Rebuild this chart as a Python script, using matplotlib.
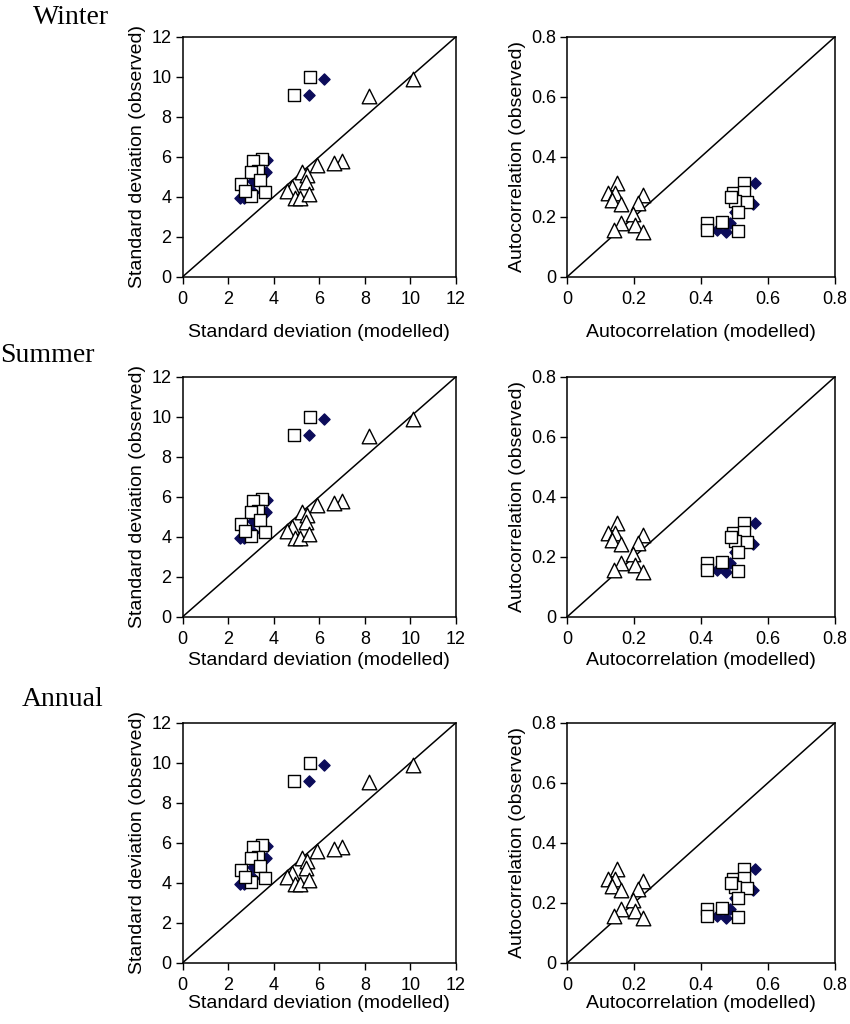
import numpy as np
import matplotlib.pyplot as plt

# standard deviation: modelled vs observed
sq_sd_mod = [5.6, 4.9, 3.5, 3.1, 3.3, 3.0, 3.4, 2.55, 3.6, 3.0, 2.75]
sq_sd_obs = [10.0, 9.1, 5.9, 5.8, 5.3, 5.25, 4.85, 4.65, 4.25, 4.05, 4.3]
dm_sd_mod = [6.2, 5.55, 3.7, 3.65, 3.1, 3.1, 2.5, 2.7]
dm_sd_obs = [9.9, 9.1, 5.85, 5.25, 4.8, 4.25, 3.95, 3.95]
tr_sd_mod = [10.1, 8.2, 7.0, 6.65, 5.9, 5.25, 5.45, 5.4, 4.8, 4.6, 4.95, 5.15, 5.55]
tr_sd_obs = [9.9, 9.05, 5.8, 5.7, 5.6, 5.25, 5.1, 4.75, 4.5, 4.3, 3.95, 3.95, 4.15]

# lag-1 autocorrelation: modelled vs observed
sq_ac_mod = [0.527, 0.496, 0.529, 0.501, 0.536, 0.511, 0.418, 0.461, 0.418, 0.511, 0.49]
sq_ac_obs = [0.313, 0.28, 0.282, 0.252, 0.249, 0.215, 0.18, 0.182, 0.155, 0.152, 0.265]
dm_ac_mod = [0.561, 0.554, 0.486, 0.446, 0.473, 0.50]
dm_ac_obs = [0.311, 0.244, 0.18, 0.155, 0.148, 0.215]
tr_ac_mod = [0.15, 0.123, 0.143, 0.133, 0.16, 0.225, 0.212, 0.197, 0.16, 0.14, 0.202, 0.225]
tr_ac_obs = [0.311, 0.28, 0.28, 0.255, 0.243, 0.274, 0.247, 0.208, 0.18, 0.155, 0.174, 0.149]

seasons = ['Winter', 'Summer', 'Annual']
sd_ticks = [0, 2, 4, 6, 8, 10, 12]
ac_ticks = [0, 0.2, 0.4, 0.6, 0.8]
ac_ticklabels = ['0', '0.2', '0.4', '0.6', '0.8']

W, H = 850, 1024
fig = plt.figure(figsize=(W / 100, H / 100), dpi=100)
plt.rcParams['font.family'] = 'Liberation Sans'

row_bottom = [276.7, 616.7, 962.7]   # pixel y of x axis
row_title = [18, 355, 700]
title_x = [33, 0, 22]
xlab_pad = [12, 3, 1]


def style(ax, lim, ticks, ticklabels):
    ax.set_xlim(0, lim)
    ax.set_ylim(0, lim)
    ax.set_xticks(ticks)
    ax.set_yticks(ticks)
    ax.set_xticklabels(ticklabels, fontsize=13)
    ax.set_yticklabels(ticklabels, fontsize=13)
    ax.tick_params(direction='out', length=5, width=1, pad=3)
    ax.tick_params(axis='x', pad=5)
    for s in ax.spines.values():
        s.set_linewidth(1.1)
    ax.plot([0, lim], [0, lim], color='black', lw=1.1, zorder=1)


def points(ax, sq, dm, tr):
    ax.scatter(*dm, marker='D', s=32, color='#0c0c5a', zorder=2)
    ax.scatter(*sq, marker='s', s=80, facecolor='white',
               edgecolor='black', linewidths=1, zorder=3)
    ax.scatter(*tr, marker='^', s=110, facecolor='white',
               edgecolor='black', linewidths=1, zorder=3)


for r, season in enumerate(seasons):
    yb = 1 - row_bottom[r] / H
    ax1 = fig.add_axes([182.7 / W, yb, 273.3 / W, 240 / H])
    ax2 = fig.add_axes([567.3 / W, yb, 267.7 / W, 240 / H])

    style(ax1, 12, sd_ticks, [str(t) for t in sd_ticks])
    points(ax1, (sq_sd_mod, sq_sd_obs), (dm_sd_mod, dm_sd_obs), (tr_sd_mod, tr_sd_obs))
    ax1.set_xlabel('Standard deviation (modelled)', fontsize=14, labelpad=xlab_pad[r])
    ax1.set_ylabel('Standard deviation (observed)', fontsize=14, labelpad=4)

    style(ax2, 0.8, ac_ticks, ac_ticklabels)
    points(ax2, (sq_ac_mod, sq_ac_obs), (dm_ac_mod, dm_ac_obs), (tr_ac_mod, tr_ac_obs))
    ax2.set_xlabel('Autocorrelation (modelled)', fontsize=14, labelpad=xlab_pad[r])
    ax2.set_ylabel('Autocorrelation (observed)', fontsize=14, labelpad=4)

    fig.text(title_x[r] / W, 1 - row_title[r] / H, season,
             family='Liberation Serif', fontsize=20, va='center', ha='left')

fig.savefig('out.png', dpi=100)
